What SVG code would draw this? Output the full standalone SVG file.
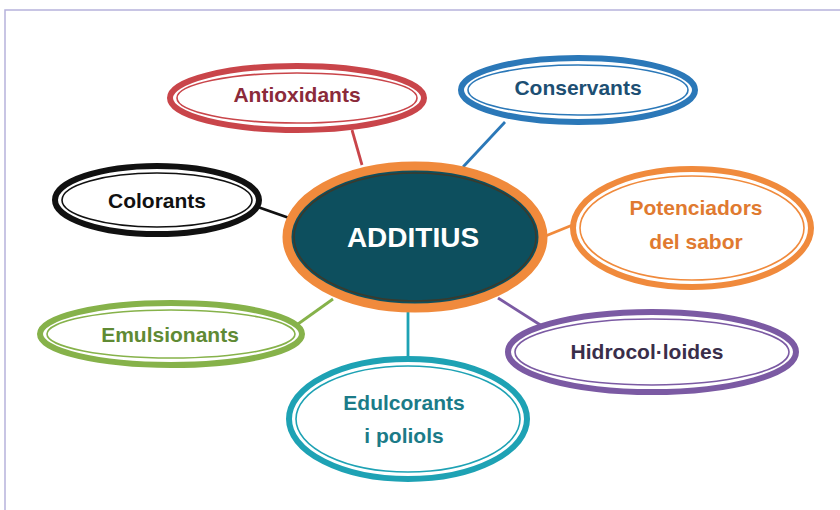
<svg xmlns="http://www.w3.org/2000/svg" width="840" height="510" viewBox="0 0 840 510">
<style>
text{font-family:"Liberation Sans",Arial,sans-serif;font-weight:bold;text-anchor:middle}
.lbl{font-size:21px}
.o{fill:#fff;stroke-width:6}
.i{fill:none;stroke-width:1.6}
.c{stroke-width:2.8;fill:none}
</style>
<rect x="5" y="10" width="850" height="520" fill="#fff" stroke="#b6b2dc" stroke-width="1.5"/>
<g id="connectors">
<line class="c" x1="352" y1="130" x2="362" y2="165" stroke="#c9454a"/>
<line class="c" x1="505" y1="122" x2="463" y2="167" stroke="#2b78b8"/>
<line class="c" x1="255" y1="206" x2="292" y2="219" stroke="#111"/>
<line class="c" x1="543" y1="237" x2="575" y2="224" stroke="#f08a3c"/>
<line class="c" x1="298" y1="324" x2="333" y2="299" stroke="#86b24a"/>
<line class="c" x1="408" y1="308" x2="408" y2="360" stroke="#1ea2b4"/>
<line class="c" x1="498" y1="298" x2="542" y2="326" stroke="#7b5aa3"/>
</g>
<g id="antioxidants">
<ellipse class="o" cx="297" cy="98" rx="127" ry="32" stroke="#c9454a"/>
<ellipse class="i" cx="297" cy="98" rx="120" ry="25" stroke="#c9454a"/>
<text class="lbl" x="297" y="102" fill="#8b2a3a">Antioxidants</text>
</g>
<g id="conservants">
<ellipse class="o" cx="578" cy="90" rx="117" ry="32" stroke="#2b78b8"/>
<ellipse class="i" cx="578" cy="90" rx="110" ry="25" stroke="#2b78b8"/>
<text class="lbl" x="578" y="95" fill="#1d4f73">Conservants</text>
</g>
<g id="colorants">
<ellipse class="o" cx="157" cy="200" rx="102" ry="34" stroke="#111"/>
<ellipse class="i" cx="157" cy="200" rx="95" ry="27" stroke="#111"/>
<text class="lbl" x="157" y="208" fill="#111">Colorants</text>
</g>
<g id="additius">
<ellipse cx="415" cy="237" rx="128" ry="71" fill="#0d4f5e" stroke="#f08a3c" stroke-width="9"/>
<ellipse cx="415" cy="237" rx="121" ry="64" fill="none" stroke="#3b3a2c" stroke-width="1.5"/>
<text x="413" y="247" fill="#fff" font-size="28">ADDITIUS</text>
</g>
<g id="potenciadors">
<ellipse class="o" cx="692" cy="228" rx="119" ry="59" stroke="#f08a3c"/>
<ellipse class="i" cx="692" cy="228" rx="112" ry="52" stroke="#f08a3c"/>
<text class="lbl" x="696" y="215" fill="#e07a30">Potenciadors</text>
<text class="lbl" x="696" y="249" fill="#e07a30">del sabor</text>
</g>
<g id="emulsionants">
<ellipse class="o" cx="171" cy="334" rx="131" ry="31" stroke="#86b24a"/>
<ellipse class="i" cx="171" cy="334" rx="124" ry="24" stroke="#86b24a"/>
<text class="lbl" x="170" y="342" fill="#5f8a34">Emulsionants</text>
</g>
<g id="edulcorants">
<ellipse class="o" cx="408" cy="419" rx="119" ry="60" stroke="#1ea2b4"/>
<ellipse class="i" cx="408" cy="419" rx="112" ry="53" stroke="#1ea2b4"/>
<text class="lbl" x="404" y="410" fill="#1b7b88">Edulcorants</text>
<text class="lbl" x="404" y="443" fill="#1b7b88">i poliols</text>
</g>
<g id="hidrocolloides">
<ellipse class="o" cx="652" cy="352" rx="144" ry="40" stroke="#7b5aa3"/>
<ellipse class="i" cx="652" cy="352" rx="137" ry="33" stroke="#7b5aa3"/>
<text class="lbl" x="647" y="359" fill="#3a2e4a">Hidrocol·loides</text>
</g>
</svg>
